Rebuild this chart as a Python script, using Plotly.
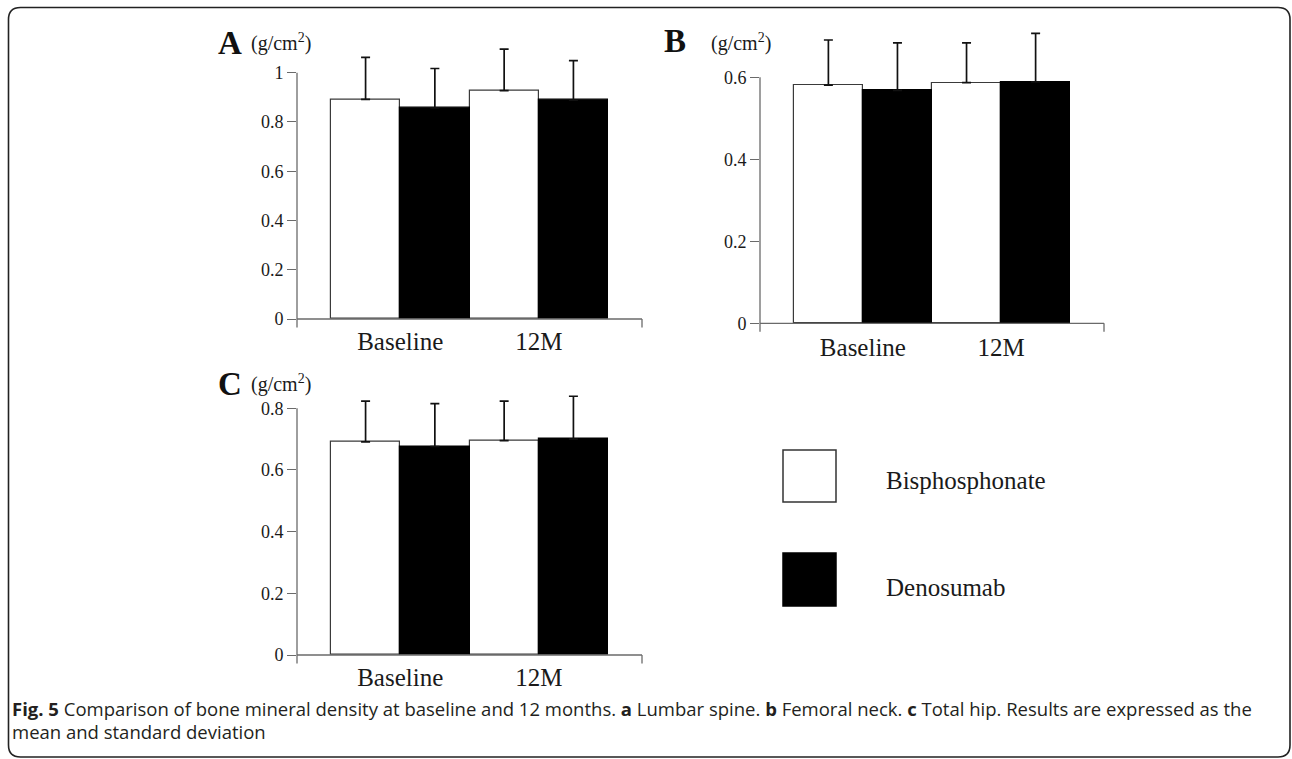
import plotly.graph_objects as go

# ---------------- data ----------------
categories = ["Baseline", "12M"]
series_names = ["Bisphosphonate", "Denosumab"]

A_bis = [0.892, 0.927]
A_bis_sd = [0.170, 0.169]
A_den = [0.857, 0.889]
A_den_sd = [0.160, 0.160]

B_bis = [0.581, 0.587]
B_bis_sd = [0.110, 0.097]
B_den = [0.568, 0.589]
B_den_sd = [0.116, 0.118]

C_bis = [0.691, 0.695]
C_bis_sd = [0.132, 0.128]
C_den = [0.676, 0.700]
C_den_sd = [0.139, 0.139]

A_ticks = [0, 0.2, 0.4, 0.6, 0.8, 1]
A_ticktext = ["0", "0.2", "0.4", "0.6", "0.8", "1"]
B_ticks = [0, 0.2, 0.4, 0.6]
B_ticktext = ["0", "0.2", "0.4", "0.6"]
C_ticks = [0, 0.2, 0.4, 0.6, 0.8]
C_ticktext = ["0", "0.2", "0.4", "0.6", "0.8"]

W, H = 1292, 759
SERIF = "Liberation Serif, Times New Roman, serif"
AXC = "#6a6a6a"
TXT = "#1a1a1a"

# panel layout (pixel geometry)
panels = [
    dict(id="", letter="A", bis=A_bis, bsd=A_bis_sd, den=A_den, dsd=A_den_sd,
         tv=A_ticks, tt=A_ticktext, left=297, right=642, y0=319, scale=246.3,
         ylo=-0.045, yhi=1.15, letter_xy=(230, 43), unit_xy=(281, 43), standoff=-6),
    dict(id="2", letter="B", bis=B_bis, bsd=B_bis_sd, den=B_den, dsd=B_den_sd,
         tv=B_ticks, tt=B_ticktext, left=760, right=1104, y0=323.3, scale=410.0,
         ylo=-0.027, yhi=0.72, letter_xy=(675, 41), unit_xy=(741, 43), standoff=-4),
    dict(id="3", letter="C", bis=C_bis, bsd=C_bis_sd, den=C_den, dsd=C_den_sd,
         tv=C_ticks, tt=C_ticktext, left=297, right=642, y0=655, scale=308.4,
         ylo=-0.036, yhi=0.87, letter_xy=(230, 384), unit_xy=(281, 383), standoff=-6),
]

fig = go.Figure()
shapes = []
annotations = []

for p in panels:
    xa = "x" + p["id"]
    ya = "y" + p["id"]
    err_common = dict(type="data", symmetric=False, arrayminus=[0, 0],
                      color="#111111", thickness=1.7, width=4.5)
    fig.add_trace(go.Bar(
        x=categories, y=p["bis"], name=series_names[0], xaxis=xa, yaxis=ya,
        marker=dict(color="white", line=dict(color="#3a3a3a", width=1.2)),
        error_y=dict(array=p["bsd"], **err_common), showlegend=False))
    fig.add_trace(go.Bar(
        x=categories, y=p["den"], name=series_names[1], xaxis=xa, yaxis=ya,
        marker=dict(color="black", line=dict(color="black", width=1.2)),
        error_y=dict(array=p["dsd"], **err_common), showlegend=False))

    bottom_px = p["y0"] - p["ylo"] * p["scale"]
    top_px = p["y0"] - p["yhi"] * p["scale"]
    xdom = [p["left"] / W, p["right"] / W]
    ydom = [1 - bottom_px / H, 1 - top_px / H]
    dom_h = bottom_px - top_px

    xkey = "xaxis" + p["id"]
    ykey = "yaxis" + p["id"]
    fig.layout[xkey] = dict(
        domain=xdom, anchor=ya, range=[-0.745, 1.745], type="category",
        showgrid=False, zeroline=False, showline=False, ticks="",
        tickfont=dict(family=SERIF, size=25, color=TXT), fixedrange=True,
        ticklabelstandoff=p["standoff"])
    fig.layout[ykey] = dict(
        domain=ydom, anchor=xa, range=[p["ylo"], p["yhi"]],
        showgrid=False, zeroline=False, showline=False,
        ticks="outside", ticklen=9, tickwidth=1.2, tickcolor=AXC,
        tickvals=p["tv"], ticktext=p["tt"],
        tickfont=dict(family=SERIF, size=18, color=TXT), fixedrange=True)

    def yf(v, p=p):
        return (v - p["ylo"]) / (p["yhi"] - p["ylo"])

    drop = 8.5 / dom_h
    xd = xa + " domain"
    yd = ya + " domain"
    line = dict(color=AXC, width=1.3)
    # y axis line (from top tick down past the x axis)
    shapes.append(dict(type="line", xref=xd, yref=yd, x0=0, x1=0,
                       y0=yf(p["tv"][-1]), y1=yf(0) - drop, line=line))
    # x axis line
    shapes.append(dict(type="line", xref=xd, yref=yd, x0=0, x1=1,
                       y0=yf(0), y1=yf(0), line=line))
    # end tick on the right
    shapes.append(dict(type="line", xref=xd, yref=yd, x0=1, x1=1,
                       y0=yf(0), y1=yf(0) - drop, line=line))

    lx, ly = p["letter_xy"]
    annotations.append(dict(text=f"<b>{p['letter']}</b>", x=lx / W, y=1 - ly / H,
                            xref="paper", yref="paper", showarrow=False,
                            xanchor="center", yanchor="middle",
                            font=dict(family=SERIF, size=33, color="#111")))
    ux, uy = p["unit_xy"]
    annotations.append(dict(text="(g/cm<sup>2</sup>)", x=ux / W, y=1 - uy / H,
                            xref="paper", yref="paper", showarrow=False,
                            xanchor="center", yanchor="middle",
                            font=dict(family=SERIF, size=20, color=TXT)))

# legend (drawn manually: large square swatches)
legend_items = [(series_names[0], "white", "#333333", 450, 502, 480),
                (series_names[1], "black", "black", 553, 606, 587)]
for name, fill, edge, t, b, ty in legend_items:
    shapes.append(dict(type="rect", xref="paper", yref="paper",
                       x0=783 / W, x1=836 / W, y0=1 - b / H, y1=1 - t / H,
                       fillcolor=fill, line=dict(color=edge, width=1.5)))
    annotations.append(dict(text=name, x=884 / W, y=1 - ty / H, xref="paper",
                            yref="paper", showarrow=False, xanchor="left",
                            yanchor="middle",
                            font=dict(family=SERIF, size=25, color=TXT)))

# caption
CAP = "Open Sans, Noto Sans, sans-serif"
annotations.append(dict(
    text=("<b>Fig. 5</b> Comparison of bone mineral density at baseline and 12 months. "
          "<b>a</b> Lumbar spine. <b>b</b> Femoral neck. <b>c</b> Total hip. "
          "Results are expressed as the"),
    x=10 / W, y=1 - 708 / H, xref="paper", yref="paper", showarrow=False,
    xanchor="left", yanchor="middle", font=dict(family=CAP, size=18.5, color="#231f20")))
annotations.append(dict(
    text="mean and standard deviation",
    x=10 / W, y=1 - 731 / H, xref="paper", yref="paper", showarrow=False,
    xanchor="left", yanchor="middle", font=dict(family=CAP, size=18.5, color="#231f20")))

# rounded frame
L, T, R, B, r = 8.5, 7.5, 1290.0, 757.0, 12.0
def px(x):
    return x / W
def py(y):
    return 1 - y / H
path = (f"M {px(L)},{py(T + r)} Q {px(L)},{py(T)} {px(L + r)},{py(T)} "
        f"L {px(R - r)},{py(T)} Q {px(R)},{py(T)} {px(R)},{py(T + r)} "
        f"L {px(R)},{py(B - r)} Q {px(R)},{py(B)} {px(R - r)},{py(B)} "
        f"L {px(L + r)},{py(B)} Q {px(L)},{py(B)} {px(L)},{py(B - r)} Z")
shapes.append(dict(type="path", xref="paper", yref="paper", path=path,
                   line=dict(color="#222222", width=1.6)))

fig.update_layout(
    width=W, height=H, margin=dict(l=0, r=0, t=0, b=0),
    paper_bgcolor="white", plot_bgcolor="rgba(0,0,0,0)",
    barmode="group", bargap=0, bargroupgap=0,
    shapes=shapes, annotations=annotations, showlegend=False)

fig.write_html("out.html")
